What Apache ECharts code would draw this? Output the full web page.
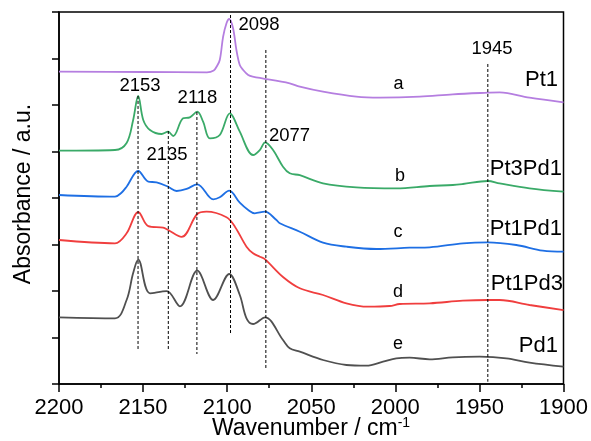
<!DOCTYPE html>
<html>
<head>
<meta charset="utf-8">
<script src="https://cdn.jsdelivr.net/npm/echarts@6/dist/echarts.min.js"></script>
<style>html,body{margin:0;padding:0;background:#fff;}#c{width:591px;height:441px;}</style>
</head>
<body>
<div id="c"></div>
<script>
// x tick labels come from axis (1900..2200 step 50)
const xTicks = [2200, 2150, 2100, 2050, 2000, 1950, 1900];

// a: Pt1
const wnA  = [2200, 2150, 2112, 2108, 2106.3, 2104.4, 2102.4, 2100.4, 2098.8, 2096.5, 2094.5, 2092.5, 2090.5, 2087.5, 2084.8, 2062.8, 2056.8, 2043, 2023.2, 2009.3, 1985.5, 1965.8, 1945, 1938, 1920.2, 1900];
const absA = [6.716, 6.710, 6.703, 6.740, 6.824, 6.968, 7.469, 7.757, 7.849, 7.649, 7.183, 6.860, 6.753, 6.645, 6.609, 6.467, 6.394, 6.286, 6.178, 6.157, 6.178, 6.230, 6.265, 6.273, 6.157, 6.058];

// b: Pt3Pd1
const wnB  = [2200, 2166.7, 2159.8, 2155.9, 2152.9, 2149.9, 2145.9, 2139, 2135.1, 2132.1, 2126.2, 2122.2, 2117.8, 2114.3, 2110.3, 2104.4, 2098.4, 2096.5, 2092.5, 2084.6, 2080.6, 2077.4, 2072.7, 2066.8, 2062.8, 2056.8, 2043, 2023.2, 1999.4, 1979.6, 1965.8, 1959.8, 1945, 1938, 1920.2, 1900];
const absB = [5.017, 5.032, 5.183, 5.677, 6.194, 5.677, 5.462, 5.376, 5.426, 5.333, 5.714, 5.735, 5.856, 5.641, 5.284, 5.355, 5.822, 5.748, 5.426, 4.925, 5.032, 5.198, 5.032, 4.673, 4.531, 4.490, 4.316, 4.230, 4.209, 4.258, 4.280, 4.301, 4.366, 4.316, 4.209, 4.135];

// c: Pt1Pd1
const wnC  = [2200, 2166.7, 2163, 2159.8, 2152.9, 2146.9, 2142, 2135.1, 2130.1, 2124.1, 2117.8, 2108.3, 2104.4, 2098.8, 2092.5, 2087.5, 2083.6, 2077.6, 2070.7, 2068.7, 2056.8, 2043, 2029.1, 2011.3, 1991.5, 1979.6, 1959.8, 1945, 1928.1, 1912.3, 1900];
const absC = [4.065, 4.028, 4.108, 4.243, 4.581, 4.351, 4.338, 4.243, 4.151, 4.194, 4.295, 3.972, 4.015, 4.157, 3.899, 3.742, 3.671, 3.705, 3.527, 3.456, 3.275, 3.039, 2.953, 2.903, 2.931, 2.940, 3.026, 3.047, 2.989, 2.867, 2.845];

// d: Pt1Pd3
const wnD  = [2200, 2166.7, 2159.8, 2152.9, 2146.9, 2138.1, 2135.1, 2127.1, 2117.8, 2112.3, 2100.4, 2095.4, 2088.5, 2084.6, 2080.6, 2077.6, 2066.8, 2056.8, 2043, 2029.1, 2016.3, 2003.4, 1997.4, 1979.6, 1959.8, 1945, 1938, 1920.2, 1900];
const absD = [3.097, 3.026, 3.241, 3.699, 3.394, 3.361, 3.312, 3.163, 3.656, 3.705, 3.585, 3.383, 2.953, 2.811, 2.738, 2.684, 2.301, 2.058, 1.914, 1.735, 1.662, 1.677, 1.720, 1.735, 1.791, 1.806, 1.806, 1.699, 1.591];

// e: Pd1
const wnE  = [2200, 2166.7, 2159.8, 2155.9, 2152.9, 2145.9, 2136, 2128.1, 2117.8, 2108.3, 2098.8, 2092.5, 2088.5, 2084.6, 2077.5, 2066.8, 2062.8, 2056.8, 2043, 2029.1, 2017.2, 2007.3, 1999.4, 1991.5, 1979.6, 1965.8, 1949.9, 1934, 1920.2, 1900];
const absE = [1.434, 1.413, 1.806, 2.387, 2.675, 1.951, 1.996, 1.671, 2.437, 1.806, 2.366, 1.914, 1.413, 1.290, 1.434, 0.946, 0.768, 0.695, 0.516, 0.409, 0.394, 0.480, 0.553, 0.566, 0.531, 0.574, 0.587, 0.553, 0.458, 0.372];

// dashed reference lines
const dashWn     = [2153, 2135, 2118, 2098, 2077, 1945];
const dashTop    = [6.194, 5.441, 5.849, 7.935, 7.183, 6.882];
const dashBottom = [0.716, 0.710, 0.645, 1.054, 0.323, 0.049];

const seriesNames  = ['Pt1', 'Pt3Pd1', 'Pt1Pd1', 'Pt1Pd3', 'Pd1'];
const seriesColors = ['#b57ee0', '#3aaa68', '#1e6fe4', '#f03e3e', '#505050'];
const wnList  = [wnA, wnB, wnC, wnD, wnE];
const absList = [absA, absB, absC, absD, absE];

const FONT = 'Liberation Sans, Arial, Helvetica, sans-serif';

const series = [];
for (let i = 0; i < wnList.length; i++) {
  series.push({
    name: seriesNames[i], type: 'line', smooth: 0.35, showSymbol: false, silent: true,
    data: wnList[i].map((w, k) => [w, absList[i][k]]),
    lineStyle: { color: seriesColors[i], width: 1.8 }, z: 3
  });
}
for (let i = 0; i < dashWn.length; i++) {
  series.push({
    type: 'line', showSymbol: false, silent: true,
    data: [[dashWn[i], dashTop[i]], [dashWn[i], dashBottom[i]]],
    lineStyle: { color: '#000', width: 1, type: [3, 2] }, z: 4
  });
}

function txt(t, x, y, size, align) {
  return { type: 'text', x: x, y: y, silent: true, z: 10,
    style: { text: t, font: size + 'px ' + FONT, fill: '#000', textAlign: align || 'center', textVerticalAlign: 'middle' } };
}

const graphics = [
  txt('2098', 259, 25, 18.5),
  txt('2153', 140, 86, 18.5),
  txt('2118', 197.5, 97.5, 18.5),
  txt('2135', 167, 155, 18.5),
  txt('2077', 289.5, 135.5, 18.5),
  txt('1945', 492, 49, 18.5),
  txt('a', 398.5, 84, 18),
  txt('b', 400, 176, 18),
  txt('c', 398, 232, 18),
  txt('d', 398, 292, 18),
  txt('e', 398, 344, 18),
  txt('Pt1', 558, 80, 22, 'right'),
  txt('Pt3Pd1', 562, 169, 22, 'right'),
  txt('Pt1Pd1', 562, 229, 22, 'right'),
  txt('Pt1Pd3', 563, 284, 22, 'right'),
  txt('Pd1', 558, 345.5, 22, 'right'),
  { type: 'text', x: 24, y: 194, rotation: Math.PI / 2, silent: true,
    style: { text: 'Absorbance / a.u.', font: '23px ' + FONT, fill: '#000', textAlign: 'center', textVerticalAlign: 'middle' } },
  { type: 'text', x: 311, y: 429, silent: true,
    style: { text: '{m|Wavenumber / cm}{s|-1}', fill: '#000', textAlign: 'center', textVerticalAlign: 'middle',
      rich: {
        m: { fontSize: 23, fontFamily: FONT, lineHeight: 26, fill: '#000' },
        s: { fontSize: 14, fontFamily: FONT, lineHeight: 14, verticalAlign: 'top', fill: '#000' }
      } } }
];

const chart = echarts.init(document.getElementById('c'), null, { renderer: 'canvas' });
chart.setOption({
  animation: false,
  backgroundColor: '#fff',
  grid: { left: 59, right: 27.5, top: 12, bottom: 57, show: true, borderColor: '#000', borderWidth: 1.5 },
  xAxis: {
    type: 'value', inverse: true, min: 1900, max: 2200, interval: 50,
    axisLine: { lineStyle: { color: '#000', width: 1.5 } },
    axisTick: { length: 8, lineStyle: { color: '#000', width: 1.5 } },
    minorTick: { show: true, splitNumber: 2, length: 4, lineStyle: { color: '#000', width: 1.5 } },
    splitLine: { show: false },
    axisLabel: { color: '#000', fontSize: 22, fontFamily: FONT, margin: 13,
      formatter: v => (xTicks.indexOf(v) >= 0 ? String(v) : '') }
  },
  yAxis: {
    type: 'value', min: 0, max: 8, interval: 1,
    axisLine: { show: true, lineStyle: { color: '#000', width: 1.5 } },
    axisTick: { show: true, length: 7, lineStyle: { color: '#000', width: 1.5 } },
    axisLabel: { show: false },
    splitLine: { show: false }
  },
  series: series,
  graphic: graphics
});
</script>
</body>
</html>
